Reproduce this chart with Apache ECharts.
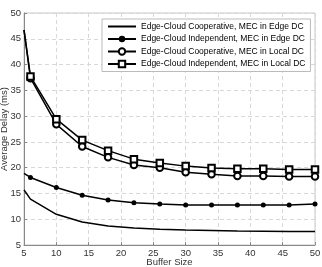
<!DOCTYPE html>
<html><head><meta charset="utf-8">
<script src="https://cdn.jsdelivr.net/npm/echarts@6/dist/echarts.min.js"></script>
<style>html,body{margin:0;padding:0;background:#fff}#c{width:322px;height:267px}</style>
</head><body><div id="c"></div>
<script>
const bufferSizes = [5, 6, 10, 14, 18, 22, 26, 30, 34, 38, 42, 46, 50];
const seriesNames = [
  'Edge-Cloud Cooperative, MEC in Edge DC',
  'Edge-Cloud Independent, MEC in Edge DC',
  'Edge-Cloud Cooperative, MEC in Local DC',
  'Edge-Cloud Independent, MEC in Local DC'
];
const coopEdge = [15.7, 13.9, 10.95, 9.45, 8.7, 8.3, 8.05, 7.9, 7.8, 7.7, 7.65, 7.6, 7.6];
const indepEdge = [18.9, 18.1, 16.15, 14.65, 13.75, 13.2, 12.95, 12.75, 12.75, 12.75, 12.75, 12.75, 12.95];
const coopLocal = [46.7, 37.35, 28.4, 24.1, 22.0, 20.5, 20.0, 19.1, 18.7, 18.4, 18.4, 18.3, 18.3];
const indepLocal = [46.7, 37.7, 29.4, 25.35, 23.3, 21.65, 20.9, 20.3, 19.95, 19.8, 19.8, 19.65, 19.65];
const xTicks = [5, 10, 15, 20, 25, 30, 35, 40, 45, 50];

function pts(vals) {
  return bufferSizes.map((x, i) => {
    const d = { value: [x, vals[i]] };
    if (i === 0) d.symbol = 'none';
    return d;
  });
}
const chart = echarts.init(document.getElementById('c'), null, {renderer: 'canvas'});
const font = 'Liberation Sans, Arial, sans-serif';
const lineStyle = {color: '#000', width: 1.5};
chart.setOption({
  animation: false,
  backgroundColor: '#fff',
  textStyle: {fontFamily: font},
  grid: {left: 24, right: 7, top: 13, bottom: 22, containLabel: false, outerBoundsMode: 'none',
    show: true, borderColor: '#c8c8c8', borderWidth: 1},
  legend: {
    orient: 'vertical', left: 102, top: 19,
    backgroundColor: '#fff', borderColor: '#bbb', borderWidth: 1,
    padding: [3, 5, 3, 5], itemGap: 3.5, itemWidth: 28, itemHeight: 8,
    textStyle: {fontSize: 8.5, color: '#000', fontFamily: font},
    data: [
      {name: seriesNames[0], itemStyle: {color: 'transparent', borderColor: 'transparent', borderWidth: 0}},
      {name: seriesNames[1]},
      {name: seriesNames[2]},
      {name: seriesNames[3]}
    ]
  },
  xAxis: {
    type: 'value', min: 5, max: 50, interval: 5,
    name: 'Buffer Size', nameLocation: 'middle', nameGap: 12, nameMoveOverlap: false,
    nameTextStyle: {fontSize: 9.5, color: '#333'},
    axisLine: {show: true, lineStyle: {color: '#888'}},
    axisTick: {show: true, inside: true, length: 3, lineStyle: {color: '#888'}},
    axisLabel: {fontSize: 9.5, color: '#333', margin: 3,
      formatter: v => xTicks.includes(v) ? String(v) : ''},
    splitLine: {show: true, lineStyle: {color: '#d8d8d8', type: [4, 3]}}
  },
  yAxis: {
    type: 'value', min: 5, max: 50, interval: 5,
    name: 'Average Delay (ms)', nameLocation: 'middle', nameGap: 15, nameMoveOverlap: false,
    nameTextStyle: {fontSize: 9.5, color: '#333'},
    axisLine: {show: true, lineStyle: {color: '#888'}},
    axisTick: {show: true, inside: true, length: 3, lineStyle: {color: '#888'}},
    axisLabel: {fontSize: 9.5, color: '#333', margin: 3},
    splitLine: {show: true, lineStyle: {color: '#d8d8d8', type: [4, 3]}}
  },
  series: [
    {name: seriesNames[0], type: 'line', data: pts(coopEdge), showSymbol: false, symbol: 'none',
      lineStyle: lineStyle, itemStyle: {color: '#000'}},
    {name: seriesNames[1], type: 'line', data: pts(indepEdge), symbol: 'circle', symbolSize: 5,
      lineStyle: lineStyle, itemStyle: {color: '#000'}},
    {name: seriesNames[2], type: 'line', data: pts(coopLocal), symbol: 'emptyCircle', symbolSize: 6.5,
      lineStyle: lineStyle, itemStyle: {color: '#000', borderColor: '#000', borderWidth: 1.3}},
    {name: seriesNames[3], type: 'line', data: pts(indepLocal), symbol: 'emptyRect', symbolSize: 6.5,
      lineStyle: lineStyle, itemStyle: {color: '#000', borderColor: '#000', borderWidth: 1.3}}
  ]
});
</script></body></html>
